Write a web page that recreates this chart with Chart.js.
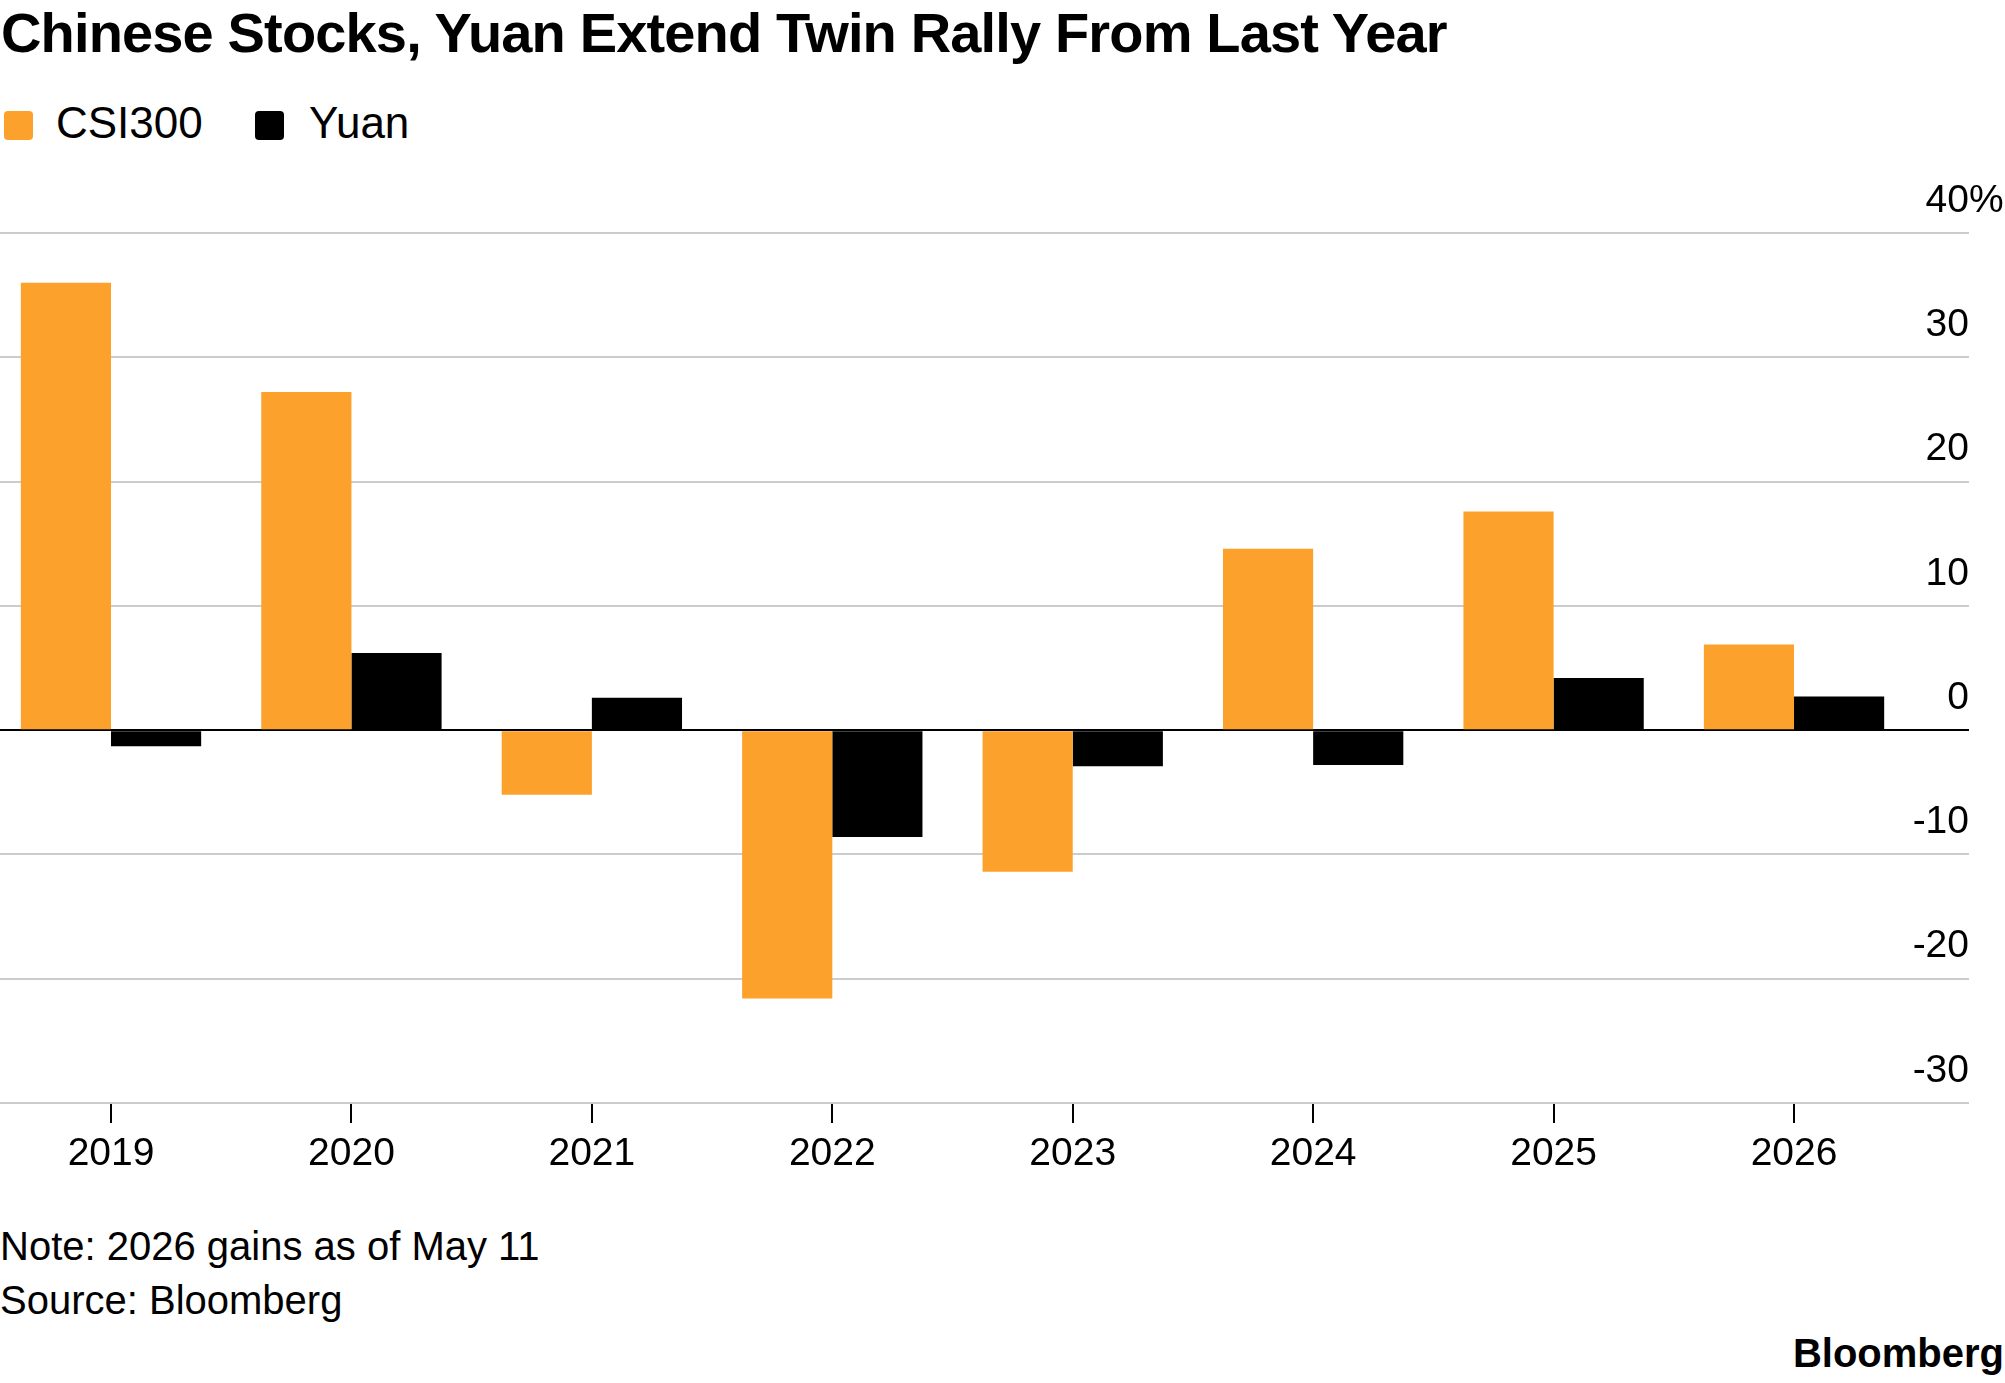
<!DOCTYPE html>
<html>
<head>
<meta charset="utf-8">
<script src="https://cdn.jsdelivr.net/npm/chart.js@4"></script>
<style>
  html, body { margin: 0; padding: 0; background: #fff; }
  body { width: 2005px; height: 1383px; position: relative; overflow: hidden;
         font-family: "Liberation Sans", Arial, Helvetica, sans-serif; color: #000; }
  .t { position: absolute; white-space: nowrap; line-height: 1; }
  #title { left: 1px; top: 5px; font-size: 56px; font-weight: 700; letter-spacing: -0.85px; }
  .sw { position: absolute; width: 29px; height: 29px; border-radius: 4px; top: 111px; }
  .lg { top: 101px; font-size: 44px; }
  .note { left: 0px; font-size: 40px; }
  #logo { right: 1px; top: 1333px; font-size: 40px; font-weight: 700; }
  #c { position: absolute; left: 0; top: 0; }
</style>
</head>
<body>
<div id="title" class="t">Chinese Stocks, Yuan Extend Twin Rally From Last Year</div>
<div class="sw" style="left:4px;background:#fca12b"></div>
<div class="t lg" style="left:56px">CSI300</div>
<div class="sw" style="left:255px;background:#000"></div>
<div class="t lg" style="left:309px">Yuan</div>
<div class="t note" style="top:1226px">Note: 2026 gains as of May 11</div>
<div class="t note" style="top:1280px">Source: Bloomberg</div>
<div id="logo" class="t">Bloomberg</div>
<canvas id="c" width="2005" height="1383" style="width:2005px;height:1383px"></canvas>
<script>
const years = [2019, 2020, 2021, 2022, 2023, 2024, 2025, 2026];
const csi300 = [36.0, 27.2, -5.2, -21.6, -11.4, 14.6, 17.6, 6.9];
const yuan = [-1.3, 6.2, 2.6, -8.6, -2.9, -2.8, 4.2, 2.7];
const yTicks = [-30, -20, -10, 0, 10, 20, 30, 40];
const seriesNames = ['CSI300', 'Yuan'];
const seriesColors = ['#fca12b', '#000000'];

const FONT = '"Liberation Sans", Arial, Helvetica, sans-serif';
const Y_LABEL_OFFSET = -32;

const percentPlugin = {
  id: 'percentSuffix',
  afterDraw(chart) {
    const ys = chart.scales.y;
    const top = yTicks[yTicks.length - 1];
    const ctx = chart.ctx;
    ctx.save();
    ctx.font = '39px ' + FONT;
    ctx.fillStyle = '#000';
    ctx.textAlign = 'left';
    ctx.textBaseline = 'middle';
    ctx.fillText('%', ys.left, ys.getPixelForValue(top) + Y_LABEL_OFFSET);
    ctx.restore();
  }
};

new Chart(document.getElementById('c'), {
  type: 'bar',
  data: {
    datasets: [
      { label: seriesNames[0], data: years.map((x, i) => ({ x, y: csi300[i] })),
        backgroundColor: seriesColors[0], borderWidth: 0 },
      { label: seriesNames[1], data: years.map((x, i) => ({ x, y: yuan[i] })),
        backgroundColor: seriesColors[1], borderWidth: 0 }
    ]
  },
  plugins: [percentPlugin],
  options: {
    responsive: false,
    animation: false,
    devicePixelRatio: window.devicePixelRatio || 1,
    categoryPercentage: 0.75,
    barPercentage: 1.0,
    layout: { padding: { top: 233, right: 36, bottom: 180, left: 0 } },
    plugins: { legend: { display: false }, title: { display: false }, tooltip: { enabled: false } },
    scales: {
      x: {
        type: 'linear',
        offset: false,
        min: 2018.5383,
        max: 2026.7278,
        afterBuildTicks: s => { s.ticks = years.map(v => ({ value: v })); },
        afterFit: s => { s.height = 100; },
        border: { display: false },
        grid: { display: true, offset: false, drawOnChartArea: false, drawTicks: true, tickLength: 20,
                color: '#000', lineWidth: 2 },
        ticks: { callback: v => String(v), font: { family: FONT, size: 39 }, color: '#000',
                 padding: 8, maxRotation: 0, autoSkip: false }
      },
      y: {
        type: 'linear',
        position: 'right',
        min: -30,
        max: 40,
        afterBuildTicks: s => { s.ticks = yTicks.map(v => ({ value: v })); },
        afterFit: s => { s.width = 0; },
        border: { display: false },
        grid: { drawTicks: false, lineWidth: 2,
                color: c => (c.tick && c.tick.value === 0) ? '#000000' : '#cccccc' },
        ticks: { mirror: true, padding: 0, labelOffset: Y_LABEL_OFFSET,
                 font: { family: FONT, size: 39 }, color: '#000',
                 callback: v => String(v) }
      }
    }
  }
});
</script>
</body>
</html>
